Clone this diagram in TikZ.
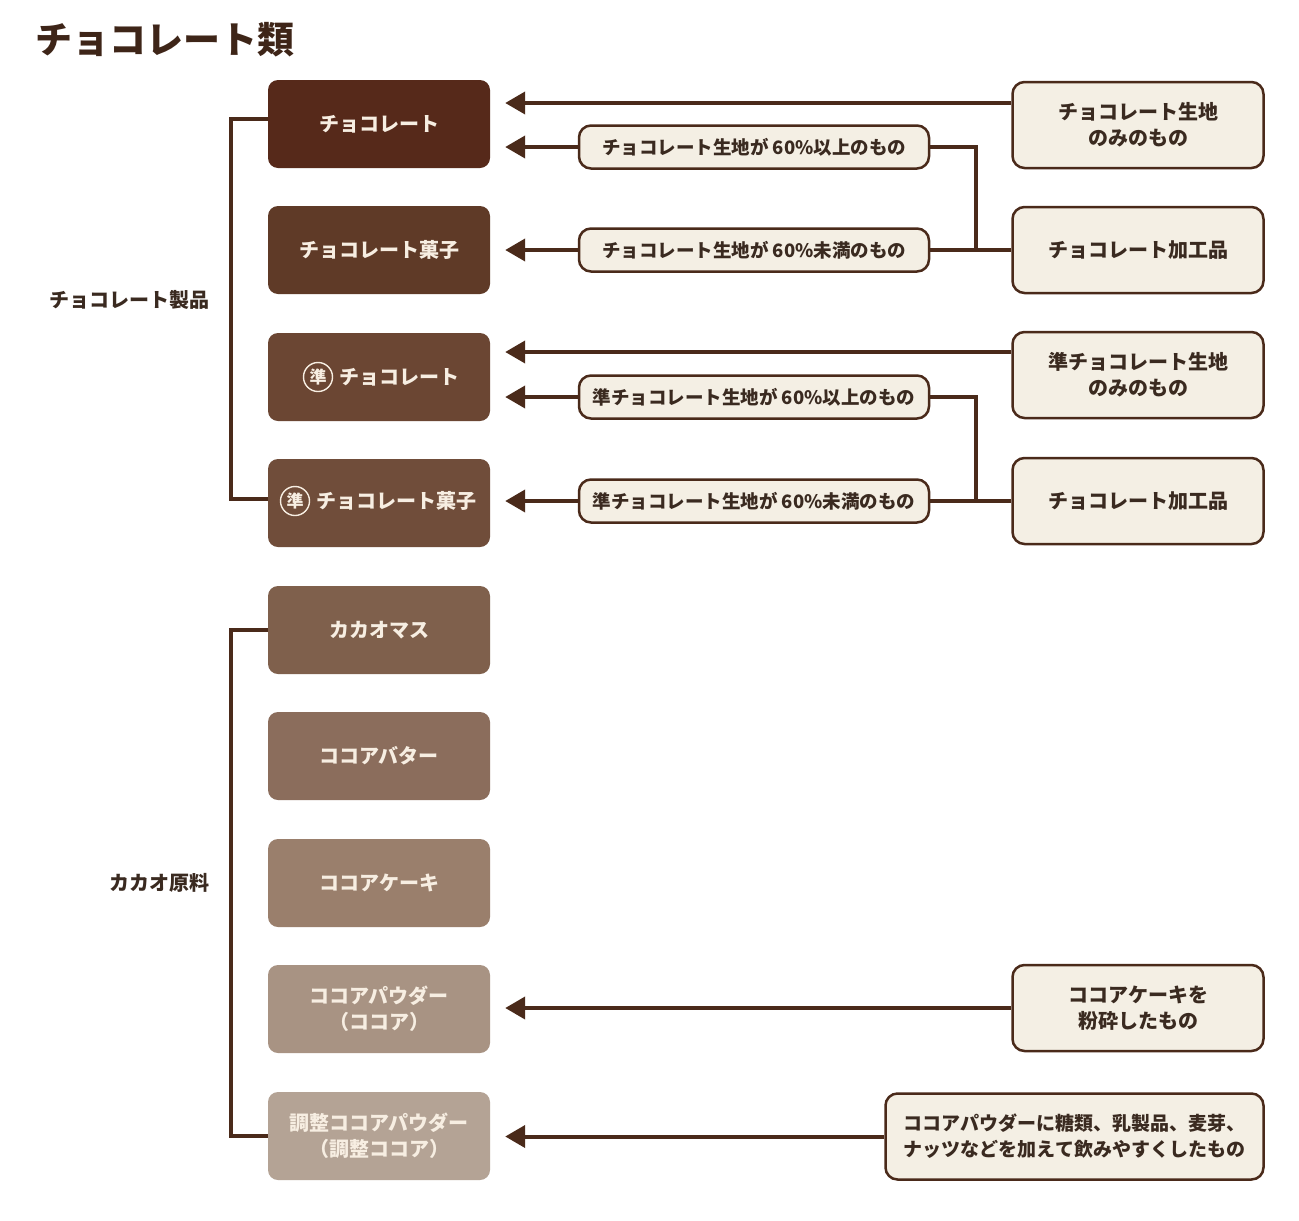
\documentclass[tikz,border=0pt]{standalone}
\usepackage{fontspec}
\setmainfont{Noto Sans CJK JP}
\usetikzlibrary{arrows.meta}
\definecolor{ln}{HTML}{4A2A1A}
\definecolor{ttl}{HTML}{3E2518}
\definecolor{dk}{HTML}{3A2A20}
\definecolor{cream}{HTML}{F7EEE2}
\definecolor{paper}{HTML}{F4EFE4}
\definecolor{c1}{HTML}{56291A}
\definecolor{c2}{HTML}{5F3A27}
\definecolor{c3}{HTML}{6B4633}
\definecolor{c4}{HTML}{704D3A}
\definecolor{c5}{HTML}{7F604C}
\definecolor{c6}{HTML}{8B6D5C}
\definecolor{c7}{HTML}{9A7F6C}
\definecolor{c8}{HTML}{A89383}
\definecolor{c9}{HTML}{B4A395}
\begin{document}
\begin{tikzpicture}[x=1pt,y=-1pt,
  cat/.style={rounded corners=10pt, minimum width=222pt, minimum height=88pt, inner sep=0pt,
    text=cream, font=\bfseries\fontsize{20}{26}\selectfont, align=center},
  lbl/.style={text=cream, font=\bfseries\fontsize{20}{26}\selectfont, inner sep=0pt},
  maru/.style={circle, draw=cream, line width=1.4pt, inner sep=0pt, minimum size=29pt,
    text=cream, font=\bfseries\fontsize{17}{17}\selectfont},
  src/.style={draw=ln, line width=2.5pt, fill=paper, rounded corners=12pt, minimum width=251pt,
    minimum height=86pt, inner sep=0pt, align=center, text=dk, font=\bfseries\fontsize{20}{26}\selectfont},
  pill/.style={draw=ln, line width=2.5pt, fill=paper, rounded corners=12pt, minimum width=350pt,
    minimum height=43pt, inner sep=0pt, text=dk, font=\bfseries\fontsize{18.5}{22}\selectfont},
  grp/.style={text=dk, font=\bfseries\fontsize{20}{24}\selectfont, inner sep=0pt, anchor=east},
  conn/.style={draw=ln, line width=4pt},
  arr/.style={conn, -{Triangle[length=20pt,width=22pt]}, shorten >=15pt}]
\useasboundingbox[fill=white] (0,0) rectangle (1299,1221);

\node[text=ttl, font=\bfseries\fontsize{37}{40}\selectfont, anchor=west, inner sep=0pt] (title) at (35,40) {チョコレート類};

% left category boxes
\node[cat, fill=c1] (r1) at (379,124) {チョコレート};
\node[cat, fill=c2] (r2) at (379,250) {チョコレート菓子};
\node[cat, fill=c3] (r3) at (379,377) {};
\node[maru] (r3c) at (318,377) {準};
\node[lbl, anchor=west] (r3t) at ([xshift=6pt]r3c.east) {チョコレート};
\node[cat, fill=c4] (r4) at (379,503) {};
\node[maru] (r4c) at (295,501) {準};
\node[lbl, anchor=west] (r4t) at ([xshift=6pt]r4c.east) {チョコレート菓子};
\node[cat, fill=c5] (r5) at (379,630) {カカオマス};
\node[cat, fill=c6] (r6) at (379,756) {ココアバター};
\node[cat, fill=c7] (r7) at (379,883) {ココアケーキ};
\node[cat, fill=c8] (r8) at (379,1009) {ココアパウダー\\（ココア）};
\node[cat, fill=c9] (r9) at (379,1136) {調整ココアパウダー\\（調整ココア）};

% group labels and brackets
\node[grp] (g1) at (210,300) {チョコレート製品};
\node[grp] (g2) at (210,883) {カカオ原料};
\draw[conn] ([yshift=5pt]r1.west) -- ++(-37,0) |- ([yshift=4pt]r4.west);
\draw[conn] (r5.west) -- ++(-37,0) |- (r9.west);

% source boxes
\node[src] (s1) at (1138,125) {チョコレート生地\\のみのもの};
\node[src] (s2) at (1138,250) {チョコレート加工品};
\node[src] (s3) at (1138,375) {準チョコレート生地\\のみのもの};
\node[src] (s4) at (1138,501) {チョコレート加工品};
\node[src] (s8) at (1138,1008) {ココアケーキを\\粉砕したもの};
\node[src, minimum width=378pt, font=\bfseries\fontsize{19}{26}\selectfont] (s9) at (1074.5,1136.5) {ココアパウダーに糖類、乳製品、麦芽、\\ナッツなどを加えて飲みやすくしたもの};

% pills
\node[pill] (p1) at (754,147) {チョコレート生地が 60\%以上のもの};
\node[pill] (p2) at (754,250) {チョコレート生地が 60\%未満のもの};
\node[pill] (p3) at (754,397) {準チョコレート生地が 60\%以上のもの};
\node[pill] (p4) at (754,501) {準チョコレート生地が 60\%未満のもの};

\coordinate (j1) at (976,250);
\coordinate (j2) at (976,501);

% connectors
\draw[arr] ([yshift=22pt]s1.west) -- ([yshift=22pt]s1.west -| r1.east);
\draw[arr] (p1.west) -- (p1.west -| r1.east);
\draw[conn] (p1.east) -| (j1);
\draw[conn] (s2.west) -- (p2.east);
\draw[arr] (p2.west) -- (p2.west -| r2.east);

\draw[arr] ([yshift=23pt]s3.west) -- ([yshift=23pt]s3.west -| r3.east);
\draw[arr] (p3.west) -- (p3.west -| r3.east);
\draw[conn] (p3.east) -| (j2);
\draw[conn] (s4.west) -- (p4.east);
\draw[arr] (p4.west) -- (p4.west -| r4.east);

\draw[arr] (s8.west) -- (s8.west -| r8.east);
\draw[arr] (s9.west) -- (s9.west -| r9.east);
\end{tikzpicture}
\end{document}
